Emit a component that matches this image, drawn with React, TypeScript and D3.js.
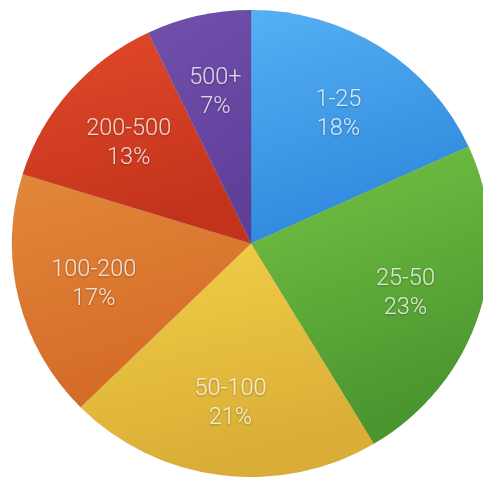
import React from "react";
import * as d3 from "d3";

const categories = ["1-25", "25-50", "50-100", "100-200", "200-500", "500+"];
const values = [18, 23, 21, 17, 13, 7];
const labels = ["18%", "23%", "21%", "17%", "13%", "7%"];
const colorsTop = ["#55b0f3", "#76c446", "#f3d048", "#e2883a", "#e2492a", "#7251ae"];
const colorsBottom = ["#2f88dc", "#4a952e", "#d9ad36", "#d46a27", "#c2331b", "#5f3f98"];

const W = 483;
const H = 479;
const cx = 251;
const cy = 243.5;
const R = 233.5;
const sx = 1.024;

export default function App() {
  const pie = d3.pie<number>().sort(null).value((d) => d);
  const arcs = pie(values);
  const arc = d3.arc<d3.PieArcDatum<number>>().innerRadius(0).outerRadius(R);
  const labelR = 158;

  return (
    <svg width={W} height={H} style={{ position: "absolute", left: 0, top: 0 }}>
      <defs>
        {arcs.map((a, i) => (
          <linearGradient key={i} id={`g${i}`} x1="0" y1="0" x2="0.3" y2="1">
            <stop offset="0%" stopColor={colorsTop[i]} />
            <stop offset="100%" stopColor={colorsBottom[i]} />
          </linearGradient>
        ))}
        <filter id="ts" x="-20%" y="-20%" width="140%" height="140%">
          <feDropShadow dx="0" dy="0.8" stdDeviation="0.8" floodColor="#000" floodOpacity="0.45" />
        </filter>
      </defs>
      <rect width={W} height={H} fill="#ffffff" />
      <g transform={`translate(${cx},${cy}) scale(${sx},1)`}>
        {arcs.map((a, i) => (
          <path key={i} d={arc(a) || ""} fill={`url(#g${i})`} stroke="rgba(0,0,0,0.08)" strokeWidth={0.6} />
        ))}
      </g>
      <g>
        {arcs.map((a, i) => {
          const mid = (a.startAngle + a.endAngle) / 2;
          const x = cx + Math.sin(mid) * labelR * sx;
          const y = cy - Math.cos(mid) * labelR;
          return (
            <g key={i} filter="url(#ts)" fontFamily="Roboto, 'Liberation Sans', sans-serif" fontWeight={300} fontSize={23.5} textAnchor="middle" fill="rgba(255,255,255,0.76)">
              <text x={x} y={y - 5}>{categories[i]}</text>
              <text x={x} y={y + 24}>{labels[i]}</text>
            </g>
          );
        })}
      </g>
    </svg>
  );
}
